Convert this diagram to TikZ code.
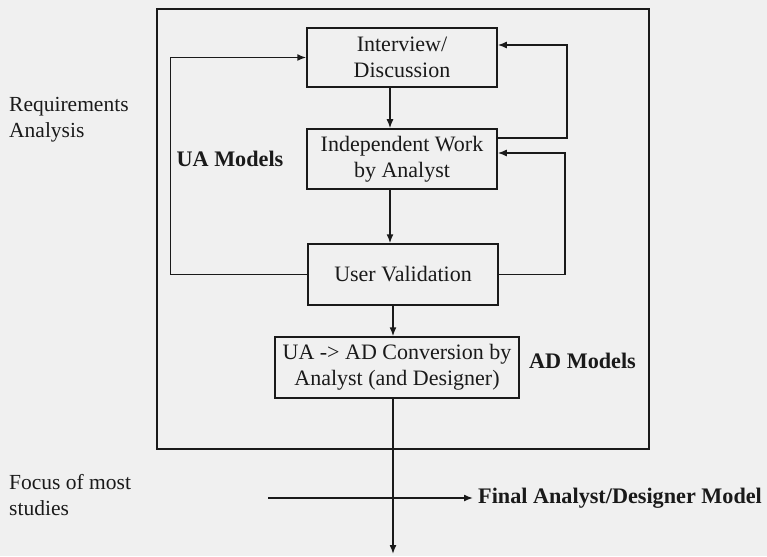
\documentclass[tikz,border=0pt]{standalone}
\usepackage{fontspec}
\setmainfont{Liberation Serif}
\usetikzlibrary{calc,arrows.meta}
\definecolor{bg}{HTML}{F0F0F0}
\definecolor{ink}{HTML}{1A1A1A}
\tikzset{
  stepbox/.style={draw=ink, line width=1.5pt, inner sep=0pt, align=center,
    font=\fontsize{22}{26}\selectfont, text=ink},
  lbl/.style={inner sep=0pt, align=left, font=\fontsize{21.5}{26}\selectfont, text=ink},
  blbl/.style={inner sep=0pt, align=left, font=\fontsize{22.2}{26}\selectfont\bfseries, text=ink},
  conn/.style={draw=ink, line width=1.5pt},
  arr/.style={conn, -{Latex[length=9pt,width=7pt]}},
}
\begin{document}
\begin{tikzpicture}[x=1pt,y=-1pt]
  \fill[bg] (0,0) rectangle (767,556);
  \useasboundingbox (0,0) rectangle (767,556);
  % outer frame
  \draw[conn] (157,9) rectangle (649,449);
  % boxes
  \node[stepbox, minimum width=190pt, minimum height=59pt] (iv) at (402,57.5) {Interview/\\Discussion};
  \node[stepbox, minimum width=190pt, minimum height=60pt] (iw) at (402,159) {Independent Work\\by Analyst};
  \node[stepbox, minimum width=190pt, minimum height=61pt] (uv) at (403,274.5) {User Validation};
  \node[stepbox, minimum width=244pt, minimum height=61pt] (cv) at (397,367.5) {UA -> AD Conversion by\\Analyst (and Designer)};
  % labels
  \node[lbl, anchor=west] (ra) at (9,120) {Requirements\\Analysis};
  \node[blbl] (ua) at (230,159) {UA Models};
  \node[blbl, anchor=west] (ad) at (529,361) {AD Models};
  \node[lbl, anchor=west] (fo) at (9,495) {Focus of most\\studies};
  \node[blbl, anchor=west] (fin) at (478,498) {Final Analyst/Designer Model};
  % helper coordinates
  \coordinate (xa) at (390,0);
  \coordinate (xb) at (393,0);
  \coordinate (hs) at (268,498);
  \coordinate (bend) at (393,554);
  % main flow
  \draw[arr] (iv.south -| xa) -- (iw.north -| xa);
  \draw[arr] (iw.south -| xa) -- (uv.north -| xa);
  \draw[arr] (uv.south -| xb) -- (cv.north -| xb);
  \draw[arr] (cv.south -| xb) -- (bend);
  \draw[arr, shorten >=5pt] (hs) -- (fin.west);
  % feedback loops
  \draw[arr] (uv.west) -- ++(-137,0) |- (iv.west);
  \draw[arr] ($(iw.east)+(0,-21)$) -- ++(69,0) |- ($(iv.east)+(0,-12.5)$);
  \draw[arr] (uv.east) -- ++(66,0) |- ($(iw.east)+(0,-6)$);
\end{tikzpicture}
\end{document}
